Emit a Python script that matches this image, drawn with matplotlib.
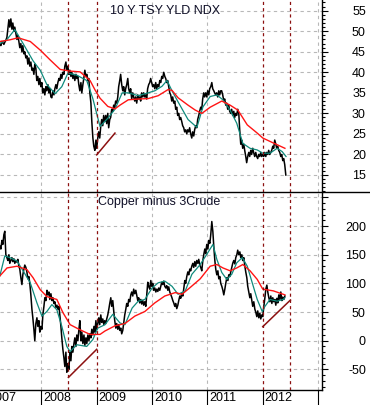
import numpy as np
import pandas as pd
import matplotlib
matplotlib.use('Agg')
import matplotlib.pyplot as plt
from matplotlib.ticker import MultipleLocator, FuncFormatter
from matplotlib.lines import Line2D

plt.rcParams['font.family'] = ['Liberation Sans', 'DejaVu Sans']

# 10 year treasury yield index (TNX), roughly weekly closes
tnx = [47.0, 46.5, 47.5, 47.2, 46.8, 47.3, 47.8, 48.5, 50.5, 52.8,
       51.0, 53.0, 50.5, 52.0, 50.0, 51.0, 49.5, 48.0, 49.0, 47.5,
       46.0, 47.0, 45.0, 46.5, 44.5, 45.0, 43.5, 44.0, 42.0, 43.5,
       41.5, 42.5, 40.5, 41.0, 39.5, 42.0, 41.0, 38.0, 39.0, 37.0,
       38.5, 36.5, 37.5, 35.0, 36.0, 34.5, 36.5, 35.5, 37.0, 35.0,
       36.0, 34.0, 33.8, 35.5, 34.5, 36.0, 37.0, 36.0, 37.5, 38.5,
       38.0, 39.5, 38.5, 40.0, 39.5, 41.5, 42.5, 40.5, 41.5, 39.5,
       40.5, 39.0, 40.0, 38.5, 39.5, 38.0, 39.5, 38.5, 39.0, 37.0,
       35.5, 37.5, 35.0, 37.0, 38.5, 40.5, 39.0, 39.5, 38.0, 38.5,
       35.0, 32.5, 28.0, 24.0, 22.0, 21.0, 23.5, 21.5, 24.0, 25.5,
       24.0, 27.0, 28.5, 27.0, 29.5, 28.0, 29.5, 27.5, 30.0, 26.5,
       28.5, 29.0, 31.0, 30.5, 32.0, 31.5, 33.0, 32.5, 34.0, 36.5,
       38.0, 39.5, 37.0, 35.5, 36.5, 34.5, 36.0, 37.0, 38.5, 36.0,
       35.0, 36.0, 33.5, 35.0, 34.0, 33.0, 34.0, 32.5, 34.5, 33.5,
       34.0, 33.0, 35.0, 34.0, 35.0, 34.0, 34.5, 33.5, 36.0, 37.0,
       37.5, 38.5, 37.5, 36.5, 37.0, 36.0, 37.5, 36.0, 37.0, 36.5,
       38.0, 37.5, 39.0, 38.5, 40.0, 39.0, 38.5, 37.5, 38.0, 36.5,
       35.0, 34.5, 33.0, 34.0, 32.5, 33.0, 31.0, 31.5, 29.5, 30.0,
       28.5, 29.0, 28.0, 27.0, 26.5, 25.5, 26.0, 25.0, 26.0, 25.5,
       26.5, 25.0, 24.0, 25.5, 24.5, 26.0, 27.0, 26.5, 28.5, 29.5,
       30.5, 31.5, 31.0, 33.5, 35.0, 34.0, 35.0, 34.0, 35.5, 34.5,
       36.0, 36.5, 37.5, 36.0, 35.5, 35.0, 34.5, 35.0, 34.0, 35.5,
       34.5, 35.5, 35.5, 34.5, 33.0, 33.5, 32.0, 32.5, 31.0, 32.0,
       30.5, 30.0, 31.0, 29.5, 30.5, 29.0, 30.0, 29.5, 31.0, 30.0,
       26.0, 22.5, 23.5, 21.5, 22.5, 21.0, 19.5, 18.0, 19.5, 20.5,
       19.5, 21.0, 20.0, 21.5, 20.5, 19.5, 20.5, 19.5, 19.0, 20.0,
       19.5, 20.5, 19.5, 20.0, 19.5, 20.5, 19.5, 20.5, 20.0, 21.0,
       20.0, 20.5, 21.0, 22.0, 21.5, 23.5, 22.5, 21.5, 22.0, 21.0,
       20.5, 19.5, 20.0, 18.5, 19.0, 17.5, 15.0]

tnx_fast_t = [2007.25, 2007.38, 2007.52, 2007.67, 2007.85, 2007.98, 2008.10, 2008.25,
              2008.37, 2008.48, 2008.64, 2008.82, 2008.93, 2009.06, 2009.20, 2009.33,
              2009.46, 2009.57, 2009.75, 2009.93, 2010.05, 2010.18, 2010.27, 2010.36,
              2010.47, 2010.65, 2010.81, 2010.92, 2011.05, 2011.17, 2011.28, 2011.41,
              2011.53, 2011.64, 2011.77, 2011.90, 2012.00, 2012.13, 2012.26, 2012.35, 2012.42]
tnx_fast = [47.0, 48.0, 50.4, 47.0, 42.8, 40.5, 37.0, 34.8,
            36.5, 39.8, 39.3, 38.0, 33.6, 26.8, 28.8, 31.0,
            35.0, 35.0, 34.3, 35.0, 35.5, 36.6, 38.0, 35.5,
            32.8, 28.5, 26.6, 31.6, 34.1, 34.5, 33.3, 30.8,
            27.6, 22.7, 21.5, 21.1, 20.3, 20.3, 21.5, 20.7, 19.5]

tnx_slow_t = [2007.25, 2007.43, 2007.58, 2007.80, 2007.98, 2008.16, 2008.34, 2008.52,
              2008.70, 2008.88, 2008.97, 2009.06, 2009.20, 2009.33, 2009.42, 2009.57,
              2009.75, 2009.93, 2010.11, 2010.29, 2010.36, 2010.47, 2010.65, 2010.78,
              2010.90, 2011.05, 2011.26, 2011.41, 2011.55, 2011.72, 2011.90, 2012.00,
              2012.19, 2012.40]
tnx_slow = [47.5, 47.9, 48.4, 47.5, 45.4, 43.0, 40.7, 40.3,
            40.1, 38.0, 35.7, 33.7, 31.7, 31.1, 32.0, 33.3,
            33.5, 33.6, 34.3, 35.8, 35.6, 33.8, 32.0, 30.8,
            30.0, 31.5, 33.0, 32.0, 30.8, 27.2, 25.2, 24.0,
            22.8, 21.5]

# copper minus 3x crude spread
spread = [165, 160, 175, 168, 185, 191, 150, 145, 140, 150,
          135, 140, 145, 138, 143, 135, 140, 137, 142, 130,
          125, 110, 98, 115, 125, 132, 128, 120, 108, 112,
          100, 80, 55, 40, 20, 0, 30, 40, 25, 35,
          15, 25, 20, 45, 60, 75, 70, 88, 80, 85,
          72, 82, 70, 75, 65, 68, 58, 62, 55, 60,
          45, 25, 5, -15, -30, -45, -20, -55, -40, -50,
          -20, -35, -10, -20, -5, 5, -10, 10, 0, 20,
          35, 0, 15, -5, 10, -8, 5, -5, 10, 0,
          12, 5, 20, 10, 25, 15, 35, 20, 30, 40,
          28, 45, 32, 38, 28, 35, 30, 38, 45, 55,
          65, 75, 60, 70, 50, 35, 22, 30, 20, 28,
          18, 22, 12, 18, 30, 45, 55, 65, 60, 72,
          68, 80, 85, 78, 90, 82, 88, 80, 70, 75,
          66, 72, 64, 70, 62, 68, 60, 80, 102, 95,
          90, 105, 95, 100, 88, 92, 85, 90, 86, 92,
          88, 96, 102, 98, 104, 95, 92, 96, 88, 94,
          85, 80, 76, 70, 66, 60, 65, 56, 62, 70,
          78, 74, 82, 78, 90, 105, 100, 112, 120, 115,
          125, 122, 130, 135, 128, 138, 130, 140, 135, 142,
          132, 128, 122, 140, 150, 160, 152, 168, 160, 175,
          170, 185, 208, 190, 165, 140, 125, 115, 122, 108,
          112, 100, 95, 88, 80, 90, 100, 110, 105, 115,
          112, 120, 128, 135, 140, 134, 145, 150, 158, 150,
          155, 145, 150, 140, 145, 130, 120, 110, 95, 85,
          75, 82, 70, 60, 68, 55, 50, 42, 52, 40,
          48, 38, 45, 42, 60, 75, 90, 97, 85, 75,
          68, 78, 65, 75, 68, 72, 62, 74, 66, 80,
          72, 85, 70, 76, 72, 78]

spread_fast_t = [2007.25, 2007.34, 2007.43, 2007.56, 2007.67, 2007.80, 2007.92, 2008.01,
                 2008.10, 2008.19, 2008.28, 2008.37, 2008.46, 2008.52, 2008.64, 2008.82,
                 2008.93, 2009.02, 2009.15, 2009.29, 2009.42, 2009.51, 2009.64, 2009.75,
                 2009.87, 2010.00, 2010.11, 2010.23, 2010.36, 2010.47, 2010.60, 2010.72,
                 2010.87, 2010.99, 2011.10, 2011.17, 2011.26, 2011.35, 2011.44, 2011.53,
                 2011.63, 2011.72, 2011.81, 2011.90, 2011.99, 2012.04, 2012.13, 2012.26,
                 2012.37, 2012.40]
spread_fast = [113, 148, 145, 139, 122, 101, 66, 43,
               51, 63, 54, 25, -10, -19, -7, -10,
               2, 22, 28, 46, 31, 28, 57, 69,
               72, 92, 101, 104, 95, 81, 87, 116,
               133, 151, 168, 142, 119, 107, 116, 136,
               145, 130, 101, 72, 51, 60, 72, 69,
               72, 75]

spread_slow_t = [2007.25, 2007.38, 2007.56, 2007.74, 2007.85, 2007.98, 2008.10, 2008.28,
                 2008.39, 2008.52, 2008.70, 2008.88, 2009.06, 2009.15, 2009.33, 2009.51,
                 2009.69, 2009.87, 2010.05, 2010.23, 2010.42, 2010.54, 2010.69, 2010.87,
                 2011.05, 2011.17, 2011.28, 2011.41, 2011.53, 2011.64, 2011.77, 2011.90,
                 2012.00, 2012.19, 2012.40]
spread_slow = [113, 127, 130, 124, 110, 89, 77, 72,
               49, 28, 19, 11, 11, 17, 26, 30,
               43, 51, 66, 78, 84, 81, 93, 108,
               130, 133, 127, 122, 127, 133, 122, 107,
               90, 87, 80]

# hand drawn trend lines and event markers
top_trend = ([2009.00, 2009.33], [19.9, 25.2])
bottom_trends = [([2008.49, 2009.00], [-64, -15]), ([2012.00, 2012.50], [24.5, 71])]
event_lines = [2008.49, 2009.00, 2012.00, 2012.50]
grid_years = [2008, 2010, 2011, 2013]
year_ticks = [2007, 2008, 2009, 2010, 2011, 2012, 2013]


def to_years(start, end, n):
    d = pd.date_range(start, end, periods=n)
    return np.asarray(d.year + (d.dayofyear - 1) / 365.25)


tnx_t = to_years('2007-04-03', '2012-06-01', len(tnx))
spread_t = to_years('2007-04-03', '2012-05-26', len(spread))

W, H = 370, 405
fig = plt.figure(figsize=(W / 100, H / 100), dpi=100)
ax1 = fig.add_axes([0, 1 - 192 / H, 322 / W, 192 / H])
ax2 = fig.add_axes([0, 15 / H, 322 / W, 198 / H])

BLACK = '#000000'
TEAL = '#0f8a7c'
RED = '#ff1414'
MAROON = '#8c1010'
GRID = '#b8b8b8'

for ax in (ax1, ax2):
    ax.set_xlim(2007.253, 2013.07)
    for s in ('left', 'top'):
        ax.spines[s].set_visible(False)
    ax.spines['right'].set_linewidth(1.0)
    ax.yaxis.tick_right()
    ax.tick_params(axis='y', which='major', length=4.3, width=0.8, pad=27.3,
                   labelsize=9, colors='black')
    ax.tick_params(axis='y', which='minor', length=2.2, width=0.8)
    ax.grid(axis='y', which='major', color=GRID, linestyle=(0, (3, 3)), linewidth=0.8)
    for gy in grid_years:
        ax.axvline(gy, color=GRID, linestyle=(0, (3, 3)), linewidth=0.8, zorder=0.5)
    for ev in event_lines:
        ax.axvline(ev, color=MAROON, linestyle=(0, (2.5, 2.5)), linewidth=0.9, zorder=4)

# top panel
ax1.set_ylim(10.86, 57.6)
ax1.yaxis.set_major_locator(MultipleLocator(5))
ax1.yaxis.set_minor_locator(MultipleLocator(1))
ax1.set_xticks(year_ticks[1:])
ax1.tick_params(axis='x', bottom=False, labelbottom=False)
ax1.spines['bottom'].set_visible(False)
ax1.plot(tnx_t, tnx, color=BLACK, linewidth=1.1, zorder=2)
ax1.plot(tnx_fast_t, tnx_fast, color=TEAL, linewidth=0.9, zorder=3)
ax1.plot(tnx_slow_t, tnx_slow, color=RED, linewidth=1.0, zorder=3)
ax1.plot(top_trend[0], top_trend[1], color=MAROON, linewidth=1.1, zorder=5)

# bottom panel
ax2.set_ylim(-86, 259.5)
ax2.yaxis.set_major_locator(MultipleLocator(50))
ax2.yaxis.set_minor_locator(MultipleLocator(10))
ax2.yaxis.set_major_formatter(FuncFormatter(lambda v, p: '' if v > 225 else '%d' % v))
ax2.set_xticks(year_ticks[1:])
ax2.tick_params(axis='x', length=10.8, width=0.8, direction='out', labelbottom=False)
ax2.spines['bottom'].set_linewidth(1.0)
ax2.plot(spread_t, spread, color=BLACK, linewidth=1.1, zorder=2)
ax2.plot(spread_fast_t, spread_fast, color=TEAL, linewidth=0.9, zorder=3)
ax2.plot(spread_slow_t, spread_slow, color=RED, linewidth=1.0, zorder=3)
for tx, ty in bottom_trends:
    ax2.plot(tx, ty, color=MAROON, linewidth=1.1, zorder=5)

for ax in (ax1, ax2):
    plt.setp(ax.get_yticklabels(), ha='right')

# year labels sit to the right of each tick
for yr in year_ticks[:-1]:
    ax2.text(yr + 0.035, -0.038, str(yr), transform=ax2.get_xaxis_transform(),
             ha='left', va='center', fontsize=9, color='black', clip_on=False)

# divider between panels spans the full width
fig.add_artist(Line2D([0, 1], [1 - 192 / H, 1 - 192 / H], color='black', linewidth=1.0))

fig.text(110 / W, 1 - 11 / H, '10 Y TSY YLD NDX', fontsize=9, color='#101028',
         ha='left', va='center')
fig.text(98 / W, 1 - 202 / H, 'Copper minus 3Crude', fontsize=9, color='#101028',
         ha='left', va='center')

fig.savefig('out.png', dpi=100)
